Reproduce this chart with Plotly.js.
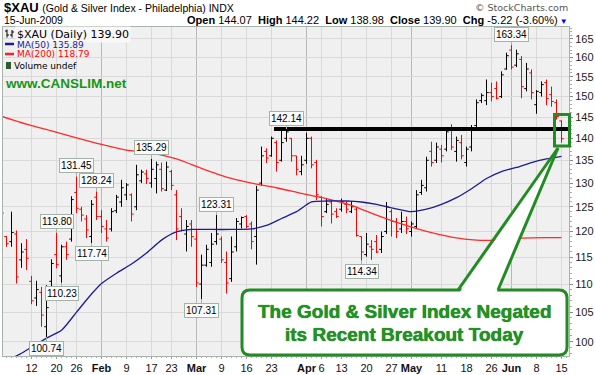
<!DOCTYPE html>
<html><head><meta charset="utf-8">
<script src="https://cdn.plot.ly/plotly-3.0.1.min.js"></script>
<style>html,body{margin:0;padding:0;background:#fff;}#chart{width:595px;height:375px;}</style>
</head><body><div id="chart"></div>
<script>
// ---------------- DATA ----------------
const dates = [
'2009-01-02','2009-01-05','2009-01-06','2009-01-07','2009-01-08','2009-01-09','2009-01-12','2009-01-13','2009-01-14','2009-01-15','2009-01-16','2009-01-20','2009-01-21','2009-01-22','2009-01-23','2009-01-26','2009-01-27','2009-01-28','2009-01-29','2009-01-30',
'2009-02-02','2009-02-03','2009-02-04','2009-02-05','2009-02-06','2009-02-09','2009-02-10','2009-02-11','2009-02-12','2009-02-13','2009-02-17','2009-02-18','2009-02-19','2009-02-20','2009-02-23','2009-02-24','2009-02-25','2009-02-26','2009-02-27',
'2009-03-02','2009-03-03','2009-03-04','2009-03-05','2009-03-06','2009-03-09','2009-03-10','2009-03-11','2009-03-12','2009-03-13','2009-03-16','2009-03-17','2009-03-18','2009-03-19','2009-03-20','2009-03-23','2009-03-24','2009-03-25','2009-03-26','2009-03-27','2009-03-30','2009-03-31',
'2009-04-01','2009-04-02','2009-04-03','2009-04-06','2009-04-07','2009-04-08','2009-04-09','2009-04-13','2009-04-14','2009-04-15','2009-04-16','2009-04-17','2009-04-20','2009-04-21','2009-04-22','2009-04-23','2009-04-24','2009-04-27','2009-04-28','2009-04-29','2009-04-30',
'2009-05-01','2009-05-04','2009-05-05','2009-05-06','2009-05-07','2009-05-08','2009-05-11','2009-05-12','2009-05-13','2009-05-14','2009-05-15','2009-05-18','2009-05-19','2009-05-20','2009-05-21','2009-05-22','2009-05-26','2009-05-27','2009-05-28','2009-05-29',
'2009-06-01','2009-06-02','2009-06-03','2009-06-04','2009-06-05','2009-06-08','2009-06-09','2009-06-10','2009-06-11','2009-06-12','2009-06-15'];

const openP = [
125.0,119.0,118.0,119.5,114.5,116.5,110.5,107.5,108.5,102.5,110.5,115.5,111.5,117.0,118.5,128.0,124.5,122.5,119.0,127.0,
123.0,120.5,120.5,124.2,126.0,127.5,127.5,125.0,130.5,132.0,130.0,131.0,133.0,128.5,132.5,127.5,123.0,119.5,121.5,
118.5,110.0,113.5,114.0,118.0,118.5,114.0,111.0,117.0,121.5,123.0,121.5,119.0,130.0,137.0,136.0,139.0,135.0,140.0,140.0,136.0,132.5,
135.0,140.0,134.5,127.0,124.0,126.0,124.0,124.5,125.5,124.0,124.5,119.0,115.5,117.0,118.0,116.5,120.0,124.0,122.0,120.5,122.0,
120.0,121.0,128.0,129.0,137.0,135.0,137.5,137.5,142.0,137.0,139.0,134.5,138.0,143.0,149.0,149.0,151.0,152.0,150.0,157.0,
162.0,158.0,159.5,152.0,156.0,148.0,151.0,153.5,150.5,148.5,144.07];

const highP = [
125.5,119.1,124.0,120.2,117.7,118.5,111.5,110.6,109.5,109.8,114.6,119.80,117.4,118.0,127.2,131.45,125.0,123.3,126.4,128.24,
124.3,122.3,124.7,127.5,130.7,130.0,127.8,134.0,132.9,132.9,135.29,134.7,134.5,134.7,132.9,128.5,124.7,122.3,122.3,
120.3,115.5,117.4,119.7,123.31,119.0,116.1,119.0,122.7,123.0,123.3,122.0,129.4,138.1,137.7,140.4,139.5,142.0,142.14,140.0,136.0,136.0,
141.3,140.4,135.1,127.2,126.7,126.4,124.7,126.7,126.1,126.1,125.0,119.0,119.7,118.3,119.3,120.0,126.0,124.5,122.7,124.0,123.0,
122.0,128.5,130.7,135.8,139.2,139.0,138.5,142.4,143.3,140.4,140.8,138.1,143.1,149.3,150.8,154.3,153.5,153.8,156.4,161.3,
163.34,162.1,160.4,158.6,156.9,151.6,153.8,154.3,152.5,149.3,144.22];

const lowP = [
122.5,117.0,117.0,110.1,113.0,112.6,106.4,106.1,102.5,100.74,109.5,112.9,110.23,114.5,118.0,123.7,122.0,118.7,117.74,122.3,
119.7,118.0,120.0,123.7,125.0,126.4,122.0,124.3,130.0,129.8,129.0,127.8,128.2,128.3,128.5,118.3,120.0,116.1,117.0,
109.5,107.31,113.2,113.2,117.4,113.9,108.3,110.4,116.1,120.6,120.6,116.5,113.6,129.4,134.4,135.8,132.5,134.7,139.2,134.7,131.7,131.7,
134.2,133.2,126.4,121.0,123.7,121.6,122.7,124.0,123.7,123.7,119.0,114.34,115.1,114.5,115.8,115.8,119.5,119.0,118.7,119.7,119.5,
119.0,120.6,127.5,128.2,133.6,134.4,134.5,137.0,137.3,134.7,135.2,133.6,137.0,142.4,148.4,147.9,148.8,149.3,149.6,156.8,
156.9,157.5,149.6,151.3,149.3,145.8,150.0,147.9,147.5,144.4,138.98];

const closeP = [
123.7,117.6,119.8,111.3,116.0,114.8,107.0,109.0,104.5,105.8,113.8,113.6,117.0,115.5,126.5,124.7,123.3,120.3,125.5,123.0,
121.0,118.7,124.0,127.0,129.0,129.6,123.5,131.8,132.4,131.0,133.0,134.0,128.8,133.5,129.5,120.5,120.2,121.0,119.0,
110.2,113.5,116.5,117.5,119.5,114.5,110.2,116.0,122.0,122.8,121.0,118.0,128.5,136.0,135.5,140.0,134.5,139.0,141.5,136.0,133.0,134.0,
140.0,134.0,127.5,123.0,125.5,123.5,123.0,126.0,124.5,125.0,119.2,116.0,117.5,116.5,116.0,119.0,125.0,122.0,120.0,122.0,120.5,
121.5,127.5,129.5,135.0,134.5,138.0,136.0,141.5,138.0,139.5,136.0,137.5,142.0,148.5,150.3,151.0,150.0,149.6,155.5,160.5,
157.5,161.0,152.5,157.0,151.0,151.3,153.0,149.5,148.8,145.12,139.90];

const ma50Dates = ['2009-01-06','2009-01-08','2009-01-13','2009-01-15','2009-01-21','2009-01-26','2009-01-29','2009-02-02','2009-02-05','2009-02-10','2009-02-13','2009-02-19','2009-02-24','2009-02-27','2009-03-05','2009-03-11','2009-03-17','2009-03-20','2009-03-25','2009-03-30','2009-04-02','2009-04-07','2009-04-14','2009-04-17','2009-04-22','2009-04-27','2009-05-01','2009-05-06','2009-05-11','2009-05-14','2009-05-19','2009-05-22','2009-05-28','2009-06-02','2009-06-05','2009-06-10','2009-06-15'];
const ma50Values = [97.3,98.1,99.6,100.6,101.9,105.0,108.2,110.1,112.0,113.7,115.8,118.3,119.9,120.4,120.4,120.4,120.5,121.2,122.6,124.0,126.0,126.2,126.2,126.0,125.5,124.8,124.0,124.5,125.5,126.9,128.8,131.0,132.5,133.4,134.5,135.3,135.89];

const ma200Dates = ['2009-01-02','2009-01-09','2009-01-16','2009-01-26','2009-02-02','2009-02-09','2009-02-17','2009-02-24','2009-03-03','2009-03-10','2009-03-17','2009-03-24','2009-03-31','2009-04-07','2009-04-15','2009-04-22','2009-04-29','2009-05-06','2009-05-13','2009-05-20','2009-05-27','2009-06-03','2009-06-10','2009-06-15'];
const ma200Values = [145.2,143.3,141.7,140.1,138.6,137.3,136.6,135.3,133.2,131.3,130.0,129.0,127.8,126.7,125.3,123.3,121.5,120.0,118.9,118.3,118.3,118.7,118.8,118.79];

const tickDates = ['2009-01-12','2009-01-20','2009-01-26','2009-02-02','2009-02-09','2009-02-17','2009-02-23','2009-03-02','2009-03-09','2009-03-16','2009-03-23','2009-04-01','2009-04-06','2009-04-13','2009-04-20','2009-04-27','2009-05-01','2009-05-11','2009-05-18','2009-05-26','2009-06-01','2009-06-08','2009-06-15'];
const tickLabels = ['12','20','26','Feb','9','17','23','Mar','9','16','23','Apr','6','13','20','27','May','11','18','26','Jun','8','15'];

const yTickValues = [100,105,110,115,120,125,130,135,140,145,150,155,160,165];

const peakLabels = [['2009-01-15','low'],['2009-01-20','high'],['2009-01-21','low'],['2009-01-26','high'],['2009-01-29','low'],['2009-01-30','high'],['2009-02-17','high'],['2009-03-03','low'],['2009-03-06','high'],['2009-03-26','high'],['2009-04-17','low'],['2009-06-01','high']];

const breakoutStart = '2009-03-23';
const breakoutLevel = 142.14;

// ---------------- LAYOUT HELPERS ----------------
const PL=3, PR=569, PT=27, PB=356;
const fx = p => (p-PL)/(PR-PL);
const fy = p => (PB-p)/(PB-PT);
const idx = d => dates.indexOf(d);
const N = dates.length;

const upI=[], dnI=[];
for(let i=0;i<N;i++){ const ref = i===0 ? openP[0] : closeP[i-1]; (closeP[i] >= ref ? upI : dnI).push(i); }
function ohlc(ids, color){
  return {type:'ohlc', x:ids, open:ids.map(i=>openP[i]), high:ids.map(i=>highP[i]), low:ids.map(i=>lowP[i]), close:ids.map(i=>closeP[i]),
    increasing:{line:{color:color,width:1}}, decreasing:{line:{color:color,width:1}}, tickwidth:0.45, hoverinfo:'skip', showlegend:false};
}
const traces = [
  ohlc(upI,'#000000'), ohlc(dnI,'#ff0000'),
  {type:'scatter', mode:'lines', x:ma200Dates.map(idx), y:ma200Values, line:{color:'#ff2a2a', width:1.3, shape:'spline', smoothing:0.6}, hoverinfo:'skip', showlegend:false},
  {type:'scatter', mode:'lines', x:ma50Dates.map(idx), y:ma50Values, line:{color:'#1c1c96', width:1.3, shape:'spline', smoothing:0.6}, hoverinfo:'skip', showlegend:false}
];

const xRange=[0.3, 113.5];
const tickIdx = tickDates.map(idx);
const shapes = [];
tickIdx.forEach((t,k)=>{
  const isMonth = isNaN(Number(tickLabels[k]));
  shapes.push({type:'line', xref:'x', yref:'paper', x0:t, x1:t, y0:0, y1:1, layer:'below', line:{color:isMonth?'#b8b8b8':'#d9d9d9', width:1}});
});
// breakout line
shapes.push({type:'line', xref:'x', yref:'y', x0:idx(breakoutStart)+0.5, x1:xRange[1], y0:breakoutLevel, y1:breakoutLevel, line:{color:'#000', width:4}});
// callout box
const G='#238b23';
const bL=fx(242), bR=fx(567), bT=fy(290), bB=fy(355), rx=8/(PR-PL), ry=8/(PB-PT);
shapes.push({type:'path', xref:'paper', yref:'paper', fillcolor:'#ffffff', line:{color:G, width:3},
  path:`M ${bL+rx},${bT} L ${bR-rx},${bT} Q ${bR},${bT} ${bR},${bT-ry} L ${bR},${bB+ry} Q ${bR},${bB} ${bR-rx},${bB} L ${bL+rx},${bB} Q ${bL},${bB} ${bL},${bB+ry} L ${bL},${bT-ry} Q ${bL},${bT} ${bL+rx},${bT} Z`});
// wedge
shapes.push({type:'path', xref:'paper', yref:'paper', fillcolor:'#ffffff', line:{width:0},
  path:`M ${fx(459.5)},${fy(292.5)} L ${fx(496.5)},${fy(292.5)} L ${fx(558)},${fy(148)} Z`});
shapes.push({type:'line', xref:'paper', yref:'paper', x0:fx(458), y0:fy(290), x1:fx(558), y1:fy(148), line:{color:G, width:3}});
shapes.push({type:'line', xref:'paper', yref:'paper', x0:fx(498), y0:fy(290), x1:fx(558), y1:fy(148), line:{color:G, width:3}});
// small box around last bars
shapes.push({type:'rect', xref:'paper', yref:'paper', x0:fx(554.5), x1:fx(569.5), y0:fy(146), y1:fy(114.5), line:{color:G, width:3}});
// legend glyphs
shapes.push({type:'line', xref:'paper', yref:'paper', x0:fx(5), x1:fx(14), y0:fy(44), y1:fy(44), line:{color:'#1c1c96', width:2.5}});
shapes.push({type:'line', xref:'paper', yref:'paper', x0:fx(5), x1:fx(14), y0:fy(54), y1:fy(54), line:{color:'#ff2020', width:2.5}});
shapes.push({type:'rect', xref:'paper', yref:'paper', x0:fx(6), x1:fx(11), y0:fy(69), y1:fy(62), fillcolor:'#2e5e2e', line:{width:0}});
[[7,29.5,37.5,31,35],[12,30,37.5,35,32]].forEach(g=>{
  shapes.push({type:'line', xref:'paper', yref:'paper', x0:fx(g[0]), x1:fx(g[0]), y0:fy(g[1]), y1:fy(g[2]), line:{color:'#000', width:1}});
  shapes.push({type:'line', xref:'paper', yref:'paper', x0:fx(g[0]-2), x1:fx(g[0]), y0:fy(g[3]), y1:fy(g[3]), line:{color:'#000', width:1}});
  shapes.push({type:'line', xref:'paper', yref:'paper', x0:fx(g[0]), x1:fx(g[0]+2), y0:fy(g[4]), y1:fy(g[4]), line:{color:'#000', width:1}});
});

const annotations = [];
peakLabels.forEach(([d,side])=>{
  const i = idx(d); const v = side==='high' ? highP[i] : lowP[i];
  annotations.push({x:i, y:Math.log10(v), xref:'x', yref:'y', text:v.toFixed(2), showarrow:true, arrowhead:0, arrowwidth:1, arrowcolor:'#a3b3aa',
    ax:0, ay: side==='high' ? -11 : 11, bgcolor:'#fafafa', bordercolor:'#a3b3aa', borderwidth:1, borderpad:1,
    font:{family:'Liberation Sans, Arial', size:10, color:'#000'}});
});
const last = N-1;
const chg = closeP[last]-closeP[last-1];
const pct = chg/closeP[last-1]*100;
const sp = '\u00a0';
annotations.push({xref:'paper', yref:'paper', x:fx(2), y:fy(8), xanchor:'left', yanchor:'middle', showarrow:false,
  text:'<b>$XAU</b> <span style="font-size:10.5px">(Gold &amp; Silver Index - Philadelphia) INDX</span>', font:{family:'Liberation Sans, Arial', size:13, color:'#000'}});
annotations.push({xref:'paper', yref:'paper', x:fx(2), y:fy(20), xanchor:'left', yanchor:'middle', showarrow:false,
  text:'15-Jun-2009', font:{family:'Liberation Sans, Arial', size:10.5, color:'#000'}});
annotations.push({xref:'paper', yref:'paper', x:fx(570), y:fy(8), xanchor:'right', yanchor:'middle', showarrow:false,
  text:'© StockCharts.com', font:{family:'DejaVu Sans', size:9.5, color:'#555'}});
annotations.push({xref:'paper', yref:'paper', x:fx(570), y:fy(20), xanchor:'right', yanchor:'middle', showarrow:false,
  text:`<b>Open</b> ${openP[last].toFixed(2)}${sp}${sp}<b>High</b> ${highP[last].toFixed(2)}${sp}${sp}<b>Low</b> ${lowP[last].toFixed(2)}${sp}${sp}<b>Close</b> ${closeP[last].toFixed(2)}${sp}${sp}<b>Chg</b> ${chg.toFixed(2)} (${pct.toFixed(2)}%)<span style="color:#0000ee;font-size:8px"> ▼</span>`,
  font:{family:'Liberation Sans, Arial', size:11, color:'#000'}});
// in-plot legend
annotations.push({xref:'paper', yref:'paper', x:fx(15), y:fy(34), xanchor:'left', yanchor:'middle', showarrow:false, bgcolor:'rgba(248,248,248,0.9)',
  text:`$XAU (Daily) ${closeP[last].toFixed(2)}`, font:{family:'DejaVu Sans', size:11, color:'#000'}});
annotations.push({xref:'paper', yref:'paper', x:fx(15), y:fy(44.5), xanchor:'left', yanchor:'middle', showarrow:false,
  text:`MA(50) ${ma50Values[ma50Values.length-1].toFixed(2)}`, font:{family:'DejaVu Sans', size:9, color:'#1c1c96'}});
annotations.push({xref:'paper', yref:'paper', x:fx(15), y:fy(54.5), xanchor:'left', yanchor:'middle', showarrow:false,
  text:`MA(200) ${ma200Values[ma200Values.length-1].toFixed(2)}`, font:{family:'DejaVu Sans', size:9, color:'#ff0000'}});
annotations.push({xref:'paper', yref:'paper', x:fx(12), y:fy(65.5), xanchor:'left', yanchor:'middle', showarrow:false,
  text:'Volume undef', font:{family:'DejaVu Sans', size:9, color:'#000'}});
annotations.push({xref:'paper', yref:'paper', x:fx(3), y:fy(83), xanchor:'left', yanchor:'middle', showarrow:false,
  text:'<b>www.CANSLIM.net</b>', font:{family:'Liberation Sans, Arial', size:13.5, color:'#169616'}});
// callout text
annotations.push({xref:'paper', yref:'paper', x:fx(405), y:fy(311), xanchor:'center', yanchor:'middle', showarrow:false,
  text:'<b>The Gold &amp; Silver Index Negated</b>', font:{family:'Liberation Sans, Arial', size:19, color:'#1f951f', shadow:'0 0 1px #0b4d0b'}});
annotations.push({xref:'paper', yref:'paper', x:fx(404), y:fy(334), xanchor:'center', yanchor:'middle', showarrow:false,
  text:'<b>its Recent Breakout Today</b>', font:{family:'Liberation Sans, Arial', size:19, color:'#1f951f', shadow:'0 0 1px #0b4d0b'}});

const minorY=[]; for(let v=98; v<=168; v++) minorY.push(v);

const layout = {
  width:595, height:375, margin:{l:PL, r:595-PR, t:PT, b:375-PB, pad:0},
  paper_bgcolor:'#ffffff', plot_bgcolor:'#f0f0f0', showlegend:false,
  xaxis:{type:'linear', range:xRange, tickmode:'array', tickvals:tickIdx,
    ticktext:tickLabels.map(t=>isNaN(Number(t))?'<b>'+t+'</b>':t),
    showgrid:false, zeroline:false, showline:true, linecolor:'#a6b4ab', linewidth:1, mirror:true,
    ticks:'outside', ticklen:2, tickcolor:'#999', tickfont:{family:'Liberation Sans, Arial', size:11, color:'#111'},
    minor:{tickmode:'linear', tick0:0, dtick:1, ticks:'outside', ticklen:1, tickcolor:'#aaa', showgrid:false},
    rangeslider:{visible:false}, fixedrange:true},
  yaxis:{type:'log', range:[Math.log10(97.66), Math.log10(168.3)], side:'right', tickmode:'array', tickvals:yTickValues,
    ticktext:yTickValues.map(String), showgrid:true, gridcolor:'#d9d9d9', gridwidth:1, zeroline:false,
    showline:true, linecolor:'#a6b4ab', linewidth:1, mirror:true,
    ticks:'outside', ticklen:3, tickcolor:'#888', tickfont:{family:'Liberation Sans, Arial', size:11, color:'#222'},
    minor:{tickmode:'array', tickvals:minorY, ticks:'outside', ticklen:1.5, tickcolor:'#aaa', showgrid:false}, fixedrange:true},
  shapes:shapes, annotations:annotations
};
Plotly.newPlot('chart', traces, layout, {staticPlot:true, displayModeBar:false});
</script></body></html>
